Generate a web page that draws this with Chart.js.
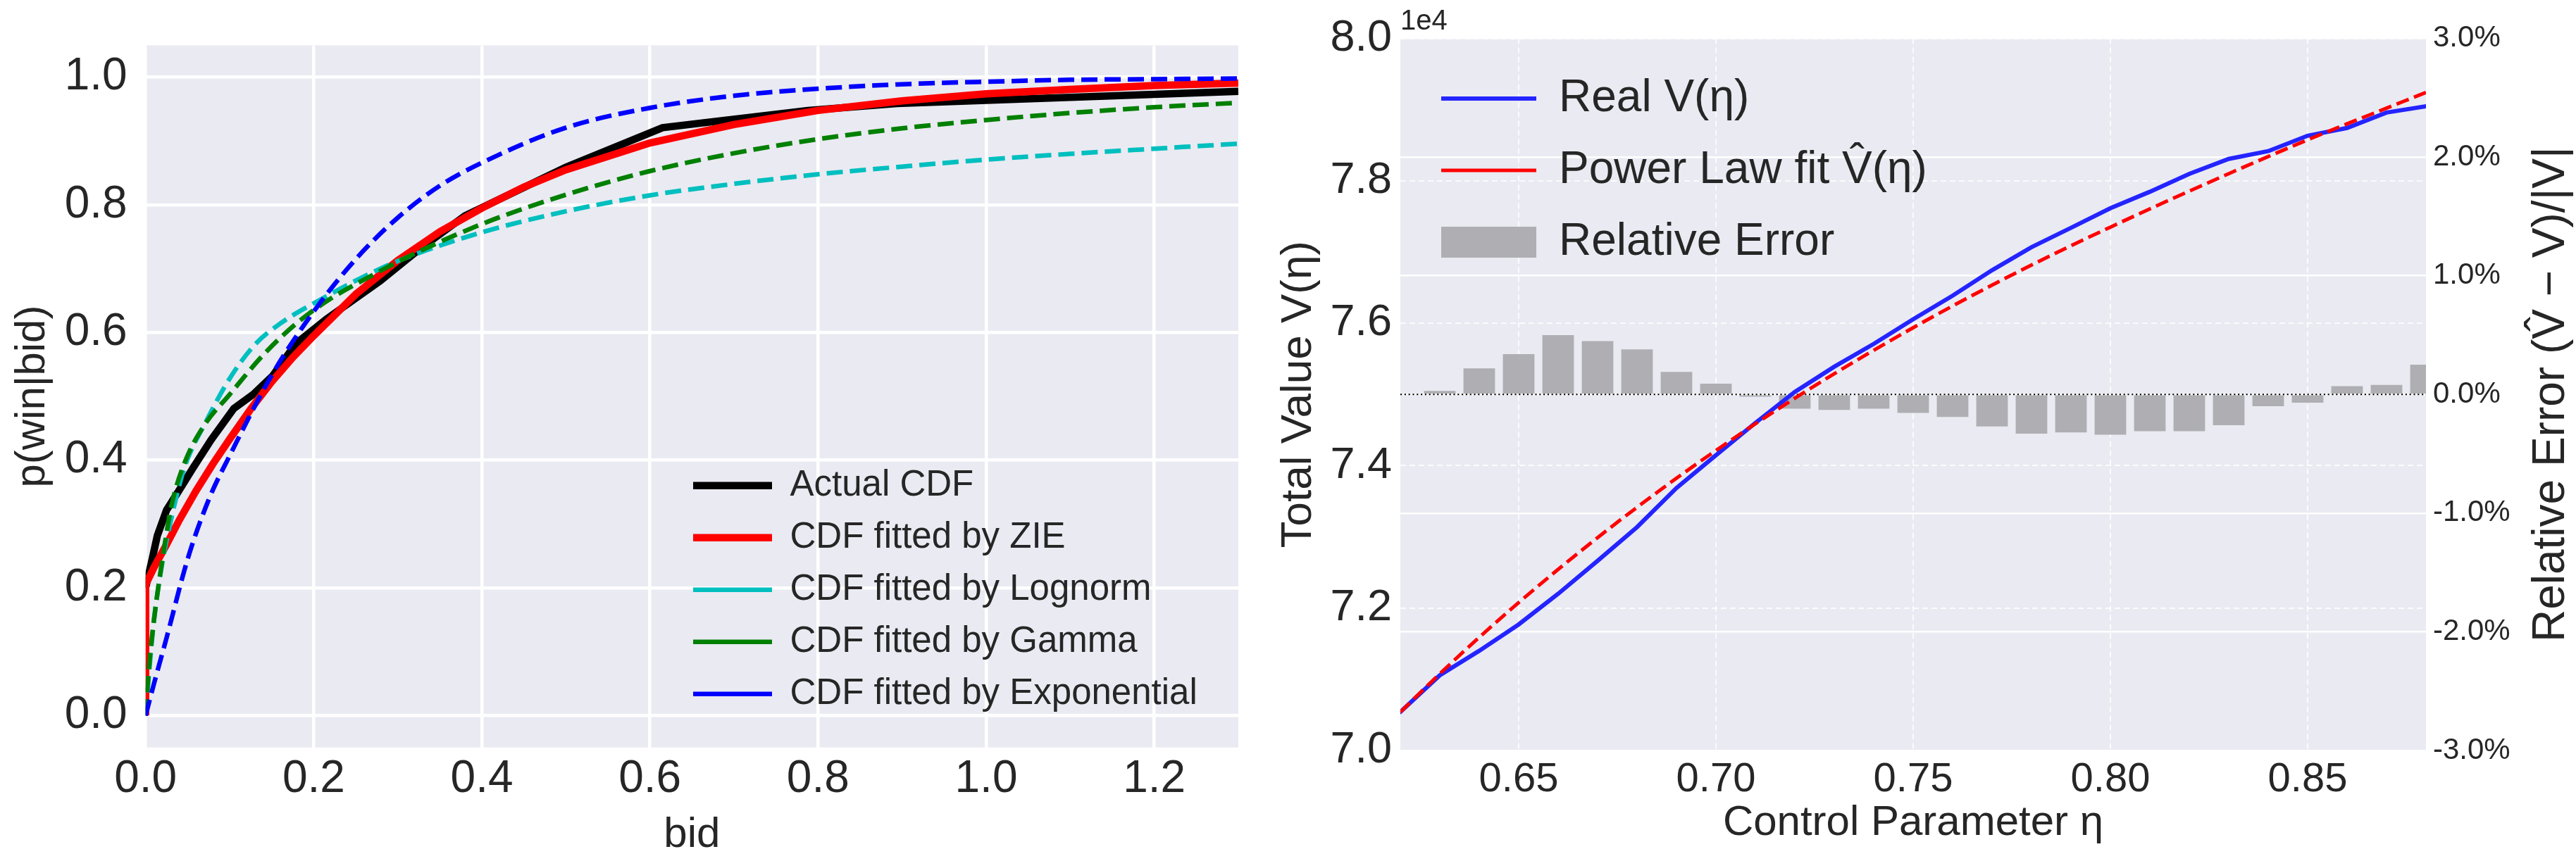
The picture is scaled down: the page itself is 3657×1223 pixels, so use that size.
<!DOCTYPE html>
<html><head><meta charset="utf-8">
<script src="https://cdn.jsdelivr.net/npm/chart.js@4/dist/chart.umd.min.js"></script>
<style>
html,body{margin:0;padding:0;background:#fff;width:3657px;height:1223px;overflow:hidden;}
#c1{position:absolute;left:0;top:0;}
#c2{position:absolute;left:1790px;top:0;}
</style></head><body>
<canvas id="c1" width="1790" height="1223"></canvas>
<canvas id="c2" width="1867" height="1223"></canvas>
<script>
// ================= LEFT PANEL DATA =================
const cdfXTicks = [0, 0.2, 0.4, 0.6, 0.8, 1.0, 1.2];
const cdfYTicks = [0, 0.2, 0.4, 0.6, 0.8, 1.0];

const actualBid = [0, 0.007, 0.014, 0.025, 0.039, 0.056, 0.078, 0.105, 0.128, 0.151, 0.179, 0.215, 0.279, 0.327, 0.38, 0.5, 0.615, 0.788, 0.894, 1.3];
const actualP   = [0.20, 0.24, 0.282, 0.322, 0.351, 0.387, 0.432, 0.481, 0.503, 0.532, 0.583, 0.621, 0.681, 0.732, 0.783, 0.859, 0.921, 0.948, 0.959, 0.978];

const zieBid = [0, 0, 0.01, 0.025, 0.04, 0.06, 0.08, 0.1, 0.125, 0.15, 0.175, 0.2, 0.25, 0.3, 0.35, 0.4, 0.45, 0.5, 0.6, 0.7, 0.8, 0.9, 1.0, 1.1, 1.2, 1.3];
const zieP   = [0, 0.205, 0.232, 0.268, 0.306, 0.352, 0.394, 0.433, 0.48, 0.523, 0.561, 0.595, 0.66, 0.713, 0.758, 0.795, 0.828, 0.855, 0.897, 0.926, 0.948, 0.963, 0.974, 0.981, 0.987, 0.991];

const lognormBid = [0, 0.005, 0.01, 0.02, 0.03, 0.042, 0.05, 0.07, 0.1, 0.13, 0.16, 0.21, 0.26, 0.3, 0.4, 0.5, 0.6, 0.7, 0.8, 0.9, 1.0, 1.1, 1.2, 1.3];
const lognormP   = [0, 0.08, 0.15, 0.24, 0.305, 0.37, 0.402, 0.456, 0.528, 0.581, 0.614, 0.653, 0.688, 0.712, 0.757, 0.79, 0.815, 0.833, 0.848, 0.86, 0.871, 0.88, 0.888, 0.896];

const gammaBid = [0, 0.002, 0.005, 0.01, 0.015, 0.022, 0.031, 0.047, 0.07, 0.1, 0.14, 0.18, 0.22, 0.27, 0.3, 0.4, 0.5, 0.6, 0.7, 0.8, 0.9, 1.0, 1.1, 1.2, 1.3];
const gammaP   = [0, 0.04, 0.09, 0.15, 0.2, 0.262, 0.33, 0.398, 0.455, 0.503, 0.565, 0.615, 0.653, 0.69, 0.711, 0.77, 0.816, 0.853, 0.881, 0.903, 0.92, 0.933, 0.944, 0.953, 0.96];

const expBid = [0, 0.01, 0.025, 0.05, 0.075, 0.1, 0.15, 0.2, 0.25, 0.3, 0.35, 0.4, 0.5, 0.6, 0.7, 0.8, 0.9, 1.0, 1.1, 1.2, 1.3];
const expP   = [0, 0.05, 0.122, 0.245, 0.338, 0.407, 0.533, 0.633, 0.715, 0.78, 0.83, 0.866, 0.921, 0.952, 0.971, 0.982, 0.989, 0.993, 0.996, 0.997, 0.998];

// ================= RIGHT PANEL DATA =================
const etaTicks   = [0.65, 0.70, 0.75, 0.80, 0.85];
const valueTicks = [70000, 72000, 74000, 76000, 78000, 80000];
const errTicks   = [-3, -2, -1, 0, 1, 2, 3];

const eta   = [0.62, 0.63, 0.64, 0.65, 0.66, 0.67, 0.68, 0.69, 0.70, 0.71, 0.72, 0.73, 0.74, 0.75, 0.76, 0.77, 0.78, 0.79, 0.80, 0.81, 0.82, 0.83, 0.84, 0.85, 0.86, 0.87, 0.88];
const realV = [70540, 71056, 71400, 71770, 72200, 72663, 73137, 73686, 74146, 74600, 75035, 75389, 75709, 76055, 76386, 76744, 77068, 77339, 77614, 77846, 78097, 78307, 78416, 78633, 78742, 78958, 79046];
const fitV  = [70540, 71077, 71589, 72077, 72543, 72989, 73415, 73823, 74213, 74587, 74946, 75290, 75620, 75937, 76242, 76535, 76817, 77088, 77349, 77605, 77855, 78100, 78340, 78575, 78800, 79020, 79240];

const errEta = [0.63, 0.64, 0.65, 0.66, 0.67, 0.68, 0.69, 0.70, 0.71, 0.72, 0.73, 0.74, 0.75, 0.76, 0.77, 0.78, 0.79, 0.80, 0.81, 0.82, 0.83, 0.84, 0.85, 0.86, 0.87, 0.88];
const relErr = [0.03, 0.22, 0.34, 0.50, 0.45, 0.38, 0.19, 0.09, -0.02, -0.12, -0.13, -0.12, -0.155, -0.19, -0.27, -0.33, -0.32, -0.34, -0.31, -0.31, -0.26, -0.10, -0.07, 0.07, 0.08, 0.25];

const zeroEta = [0.62, 0.88];
const zeroErr = [0, 0];

// ================= HELPERS =================
const pairs = (xs, ys) => xs.map((x, i) => ({x: x, y: ys[i]}));
const FONT = '"Liberation Sans", Arial, sans-serif';
const LABEL = '#262626';
Chart.defaults.font.family = FONT;
Chart.defaults.color = LABEL;

const plotBg = {
  id: 'plotBg',
  beforeDraw(chart, args, opts) {
    const a = chart.chartArea, ctx = chart.ctx;
    ctx.save();
    ctx.fillStyle = opts.color || '#EAEAF2';
    ctx.fillRect(a.left, a.top, a.right - a.left, a.bottom - a.top);
    ctx.restore();
  }
};
const legendPos = {
  id: 'legendPos',
  afterLayout(chart, args, opts) {
    const lg = chart.legend;
    if (!lg) return;
    lg.left = opts.x; lg.top = opts.y;
    lg.right = lg.left + lg.width;
    lg.bottom = lg.top + lg.height;
  }
};
const sideTitle = {
  id: 'sideTitle',
  afterDraw(chart, args, opts) {
    if (!opts.text) return;
    const a = chart.chartArea, ctx = chart.ctx;
    ctx.save();
    ctx.font = opts.size + 'px ' + FONT;
    ctx.fillStyle = LABEL;
    ctx.textAlign = 'center';
    ctx.textBaseline = 'middle';
    ctx.translate(opts.x, (a.top + a.bottom) / 2);
    ctx.rotate(-Math.PI / 2);
    ctx.fillText(opts.text, 0, 0);
    ctx.restore();
  }
};
const setTicks = arr => (s => { s.ticks = arr.map(v => ({value: v})); });

// ================= LEFT CHART =================
new Chart(document.getElementById('c1'), {
  type: 'line',
  data: {
    datasets: [
      {label: 'Actual CDF', data: pairs(actualBid, actualP), borderColor: '#000000', backgroundColor: '#000000',
       borderWidth: 10.5, pointRadius: 0, pointStyle: 'line', tension: 0, order: 5},
      {label: 'CDF fitted by ZIE', data: pairs(zieBid, zieP), borderColor: '#FF0000', backgroundColor: '#FF0000',
       borderWidth: 10.5, pointRadius: 0, pointStyle: 'line', tension: 0, order: 4},
      {label: 'CDF fitted by Lognorm', data: pairs(lognormBid, lognormP), borderColor: '#00BFBF', backgroundColor: '#00BFBF',
       borderWidth: 6.5, borderDash: [23, 10], pointRadius: 0, pointStyle: 'line', cubicInterpolationMode: 'monotone', order: 3},
      {label: 'CDF fitted by Gamma', data: pairs(gammaBid, gammaP), borderColor: '#008000', backgroundColor: '#008000',
       borderWidth: 6.5, borderDash: [23, 10], pointRadius: 0, pointStyle: 'line', cubicInterpolationMode: 'monotone', order: 2},
      {label: 'CDF fitted by Exponential', data: pairs(expBid, expP), borderColor: '#0000FF', backgroundColor: '#0000FF',
       borderWidth: 6.5, borderDash: [23, 10], pointRadius: 0, pointStyle: 'line', cubicInterpolationMode: 'monotone', order: 1}
    ]
  },
  options: {
    responsive: false, animation: false, devicePixelRatio: 1, events: [],
    layout: {padding: {left: 0, top: 52.3, right: 32, bottom: 0}},
    scales: {
      x: {
        type: 'linear', min: 0, max: 1.3,
        afterBuildTicks: setTicks(cdfXTicks),
        afterFit: s => { s.height = 161.3; },
        ticks: {font: {size: 64}, color: LABEL, padding: 7, maxRotation: 0, autoSkip: false, callback: v => Number(v).toFixed(1)},
        grid: {color: '#FFFFFF', lineWidth: 4.5, drawTicks: false},
        border: {display: false},
        title: {display: true, text: 'bid', color: LABEL, font: {size: 60}, padding: {top: 0, bottom: 1}}
      },
      y: {
        type: 'linear', min: -0.05, max: 1.05,
        afterBuildTicks: setTicks(cdfYTicks),
        afterFit: s => { s.width = 206.7; },
        ticks: {font: {size: 64}, color: LABEL, padding: 26, autoSkip: false, callback: v => Number(v).toFixed(1)},
        grid: {color: '#FFFFFF', lineWidth: 4.5, drawTicks: false},
        border: {display: false},
        title: {display: true, text: 'p(win|bid)', color: LABEL, font: {size: 60}, padding: {top: 10.5, bottom: 0}}
      }
    },
    plugins: {
      legend: {
        position: 'chartArea', align: 'start',
        labels: {usePointStyle: true, pointStyleWidth: 112, boxHeight: 10, font: {size: 51}, color: LABEL, padding: 23,
                 sort: (a, b) => a.datasetIndex - b.datasetIndex}
      },
      tooltip: {enabled: false},
      plotBg: {color: '#EAEAF2'},
      legendPos: {x: 961, y: 641.3}
    }
  },
  plugins: [plotBg, legendPos]
});

// ================= RIGHT CHART =================
new Chart(document.getElementById('c2'), {
  type: 'line',
  data: {
    datasets: [
      {type: 'line', label: 'Real V(η)', data: pairs(eta, realV), yAxisID: 'y', borderColor: '#2424FF', backgroundColor: '#2424FF',
       borderWidth: 6, borderCapStyle: 'round', pointRadius: 0, pointStyle: 'line', tension: 0, order: 2},
      {type: 'line', label: 'Power Law fit V\u0302(η)', data: pairs(eta, fitV), yAxisID: 'y', borderColor: '#FF0000', backgroundColor: '#FF0000',
       borderWidth: 5, borderDash: [18.5, 8], pointRadius: 0, pointStyle: 'line', cubicInterpolationMode: 'monotone', order: 1},
      {type: 'bar', label: 'Relative Error', data: pairs(errEta, relErr), yAxisID: 'y2', backgroundColor: '#AEAEB3', borderColor: '#AEAEB3',
       borderWidth: 0, barPercentage: 0.8, categoryPercentage: 1, pointStyle: 'rect', clip: 0, order: 4},
      {type: 'line', label: 'zero', data: pairs(zeroEta, zeroErr), yAxisID: 'y2', borderColor: '#000000',
       borderWidth: 2.2, borderDash: [2.2, 3.6], pointRadius: 0, tension: 0, order: 3}
    ]
  },
  options: {
    responsive: false, animation: false, devicePixelRatio: 1, events: [],
    layout: {padding: {left: 0, top: 0, right: 0, bottom: 0}},
    scales: {
      x: {
        type: 'linear', min: 0.62, max: 0.88, offset: false,
        afterBuildTicks: setTicks(etaTicks),
        afterFit: s => { s.height = 157; },
        ticks: {font: {size: 58}, color: LABEL, padding: 7.6, maxRotation: 0, autoSkip: false, callback: v => Number(v).toFixed(2)},
        grid: {color: 'rgba(255,255,255,0.8)', lineWidth: 2, drawTicks: false, offset: false},
        border: {display: false, dash: [8, 5]},
        title: {display: true, text: 'Control Parameter η', color: LABEL, font: {size: 60}, padding: {top: 0, bottom: 18}}
      },
      y: {
        type: 'linear', position: 'left', min: 70000, max: 80000,
        afterBuildTicks: setTicks(valueTicks),
        afterFit: s => { s.width = 198; },
        ticks: {font: {size: 63}, color: LABEL, padding: 12, autoSkip: false, callback: v => (v / 1e4).toFixed(1)},
        grid: {color: 'rgba(255,255,255,0.8)', lineWidth: 2, drawTicks: false},
        border: {display: false, dash: [8, 5]},
        title: {display: true, text: 'Total Value V(η)', color: LABEL, font: {size: 62}, padding: {top: 16.3, bottom: 0}}
      },
      y2: {
        type: 'linear', position: 'right', min: -3, max: 3,
        afterBuildTicks: setTicks(errTicks),
        afterFit: s => { s.width = 213; },
        ticks: {font: {size: 42}, color: LABEL, padding: 10, autoSkip: false, callback: v => Number(v).toFixed(1) + '%'},
        grid: {color: '#FFFFFF', lineWidth: 2.5, drawTicks: false},
        border: {display: false}
      }
    },
    plugins: {
      title: {display: true, text: '1e4', align: 'start', fullSize: false, color: LABEL,
              font: {size: 40, weight: 'normal'}, padding: {top: 6.5, bottom: 0}},
      legend: {
        position: 'chartArea', align: 'start',
        labels: {usePointStyle: true, pointStyleWidth: 135, boxHeight: 44, font: {size: 64}, color: LABEL, padding: 38,
                 filter: item => item.datasetIndex !== 3,
                 sort: (a, b) => a.datasetIndex - b.datasetIndex}
      },
      tooltip: {enabled: false},
      plotBg: {color: '#EAEAF2'},
      legendPos: {x: 218, y: 70},
      sideTitle: {text: 'Relative Error (V\u0302 \u2212 V)/|V|', size: 64, x: 1832.5}
    }
  },
  plugins: [plotBg, legendPos, sideTitle]
});
</script>
</body></html>
